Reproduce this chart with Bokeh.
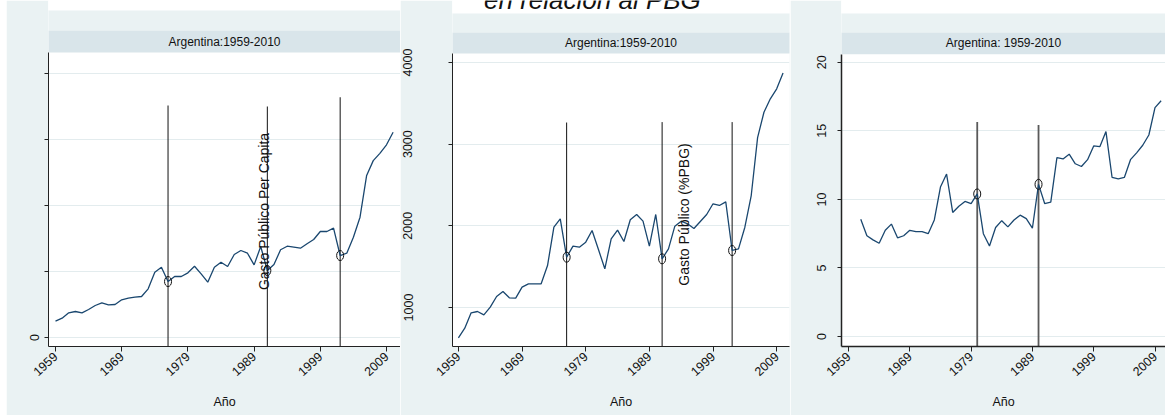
from math import pi
from bokeh.plotting import figure
from bokeh.layouts import row
from bokeh.models import FixedTicker, Range1d, Label, Spacer
from bokeh.core.properties import value
from bokeh.embed import file_html
from bokeh.resources import INLINE

# ---------------- data ----------------
years_p1 = list(range(1959, 2011))
gasto_total = [2.47, 2.93, 3.74, 3.94, 3.74, 4.24, 4.85, 5.25, 4.95, 5.0,
               5.71, 5.96, 6.11, 6.21, 7.37, 9.9, 10.65, 8.48, 9.24, 9.24,
               9.8, 10.8, 9.65, 8.38, 10.65, 11.4, 10.76, 12.58, 13.18, 12.77,
               11.0, 13.79, 10.15, 11.06, 13.29, 13.83, 13.68, 13.53, 14.2, 14.85,
               16.06, 16.06, 16.56, 12.42, 12.77, 15.2, 18.23, 24.55, 26.8, 27.9,
               29.2, 31.1]

years_p2 = list(range(1959, 2011))
gasto_pc = [629, 747, 935, 951, 910, 1004, 1135, 1196, 1119, 1114,
            1249, 1290, 1290, 1290, 1514, 1983, 2086, 1616, 1751, 1739,
            1800, 1943, 1710, 1474, 1841, 1947, 1808, 2074, 2139, 2057,
            1751, 2139, 1596, 1718, 1996, 2057, 2025, 1967, 2053, 2139,
            2270, 2249, 2294, 1698, 1718, 1983, 2371, 3080, 3391, 3555,
            3678, 3870]

years_p3 = list(range(1961, 2011))
gasto_pbg = [8.56, 7.35, 7.05, 6.8, 7.75, 8.2, 7.2, 7.35, 7.75, 7.65,
             7.65, 7.5, 8.5, 10.9, 11.85, 9.05, 9.5, 9.85, 9.7, 10.4,
             7.5, 6.6, 7.95, 8.45, 8.0, 8.5, 8.85, 8.6, 7.9, 11.1,
             9.7, 9.8, 13.05, 12.95, 13.3, 12.6, 12.4, 12.9, 13.9, 13.85,
             14.95, 11.6, 11.5, 11.6, 12.9, 13.4, 13.95, 14.7, 16.7, 17.2]

breaks_p1 = [1976, 1991, 2002]
break_top_p1 = [35.15, 35.0, 36.4]
breaks_p2 = [1976, 1991, 2002]
break_top_p2 = [3265, 3270, 3270]
breaks_p3 = [1980, 1990]
break_top_p3 = [15.64, 15.42]

x_ticks = [1959, 1969, 1979, 1989, 1999, 2009]
y_ticks_p1 = [0, 10, 20, 30, 40]
y_labels_p1 = {0: "0", 10: "", 20: "", 30: "", 40: ""}
y_ticks_p2 = [1000, 2000, 3000, 4000]
y_ticks_p3 = [0, 5, 10, 15, 20]

strip_titles = ["Argentina:1959-2010", "Argentina:1959-2010", "Argentina: 1959-2010"]
y_title_p1 = "Gasto Público Per Capita"
y_title_p2 = "Gasto Público (%PBG)"
x_title = "Año"
top_title = "en relación al PBG"

# ---------------- style ----------------
BG = "#EAF2F3"
STRIP = "#D9E5EA"
GRID = "#E3ECEE"
LINE = "#1A476F"
FONT = "Liberation Sans"
PAGE_TOP = 0
PAGE_BOTTOM = 415


def make_panel(page_left, width, frame, xmap, ymap, bg_top, strip_tb, strip_title,
               ticks_y, y_standoff, axis_w):
    """frame = (left, right, plot-top, bottom) in page pixels; the frame is extended
    up to the top of the canvas so the title strip can be drawn inside it."""
    fl, fr, ft, fb = frame
    px0, yr0, sx = xmap
    py0, v0, sy = ymap

    def X(px):
        return yr0 + (px - px0) / sx

    def Y(py):
        return v0 + (py0 - py) / sy

    p = figure(width=width, height=PAGE_BOTTOM - PAGE_TOP,
               x_range=Range1d(X(fl), X(fr)), y_range=Range1d(Y(fb), Y(PAGE_TOP)),
               min_border_left=fl - page_left, min_border_right=page_left + width - fr,
               min_border_top=0, min_border_bottom=PAGE_BOTTOM - fb,
               output_backend="svg", toolbar_location=None,
               background_fill_color="white", border_fill_color=BG,
               outline_line_color=None)
    p.xgrid.visible = False
    p.ygrid.grid_line_color = GRID
    p.ygrid.grid_line_width = 1
    p.xaxis.ticker = FixedTicker(ticks=x_ticks)
    p.yaxis.ticker = FixedTicker(ticks=ticks_y)
    for ax in (p.xaxis[0], p.yaxis[0]):
        ax.axis_line_color = "#222222"
        ax.axis_line_width = axis_w
        ax.major_tick_line_color = "#222222"
        ax.major_tick_in = 0
        ax.minor_tick_line_color = None
        ax.major_label_text_font = FONT
        ax.major_label_text_font_size = "12.5px"
        ax.major_label_text_color = "#111111"
    p.xaxis.major_tick_out = 5
    p.yaxis.major_tick_out = 4
    p.xaxis.major_label_orientation = 0.75
    p.xaxis.major_label_standoff = 3
    p.yaxis.major_label_orientation = "vertical"
    p.yaxis.major_label_standoff = y_standoff
    p.yaxis.bounds = (Y(fb), Y(ft))
    p.xaxis.axis_label = x_title
    p.xaxis.axis_label_text_font = FONT
    p.xaxis.axis_label_text_font_size = "12.5px"
    p.xaxis.axis_label_text_font_style = "normal"
    p.xaxis.axis_label_text_color = "#111111"
    p.xaxis.axis_label_standoff = 12

    st, sb = strip_tb
    xl, xr = X(fl - 5), X(fr + 15)
    # white band above the panels, light background, then the title strip
    p.quad(left=[xl] * 3, right=[xr] * 3,
           top=[Y(PAGE_TOP - 10), Y(bg_top), Y(st)],
           bottom=[Y(bg_top), Y(st), Y(sb)],
           fill_color=["white", BG, STRIP], line_color=None)
    p.text(x=[X((fl + fr) / 2 if fr < 1165 else 1003)], y=[Y((st + sb) / 2)],
           text=[strip_title], text_font=value(FONT), text_font_size="12px",
           text_align="center", text_baseline="middle", text_color="#111111")
    return p, X, Y


# ---------------- panel 1 ----------------
p1, X1, Y1 = make_panel(6, 394, (48, 400, 52, 346), (55, 1959, 6.62), (337, 0, 6.6),
                        10, (30, 52), strip_titles[0], y_ticks_p1, 6, 1)
p1.yaxis.major_label_overrides = y_labels_p1
p1.segment(x0=breaks_p1, y0=[Y1(360)] * len(breaks_p1), x1=breaks_p1, y1=break_top_p1,
           line_color="#111111", line_width=1)
p1.line(years_p1, gasto_total, line_color=LINE, line_width=1.3)
p1.ellipse(x=breaks_p1, y=[gasto_total[years_p1.index(b)] for b in breaks_p1],
           width=7, height=10, width_units="screen", height_units="screen",
           fill_color=None, line_color="#111111", line_width=1)
p1.add_layout(Label(x=X1(263), y=Y1(211), text=y_title_p1, text_align="center",
                    text_baseline="middle", angle=pi / 2, text_font=FONT,
                    text_font_size="14px", text_color="#111111"))

# ---------------- panel 2 ----------------
p2, X2, Y2 = make_panel(400, 390, (447, 789, 53, 346), (453, 1959, 6.46), (307, 1000, 0.08167),
                        13, (32, 53), strip_titles[1], y_ticks_p2, 36, 1)
p2.segment(x0=breaks_p2, y0=[Y2(360)] * len(breaks_p2), x1=breaks_p2, y1=break_top_p2,
           line_color="#111111", line_width=1)
p2.line(years_p2, gasto_pc, line_color=LINE, line_width=1.3)
p2.ellipse(x=breaks_p2, y=[gasto_pc[years_p2.index(b)] for b in breaks_p2],
           width=7, height=10, width_units="screen", height_units="screen",
           fill_color=None, line_color="#111111", line_width=1)
p2.add_layout(Label(x=X2(682), y=Y2(214), text=y_title_p2, text_align="center",
                    text_baseline="middle", angle=pi / 2, text_font=FONT,
                    text_font_size="14px", text_color="#111111"))
# page title, cut off at the top edge as in the original screenshot
p2.text(x=[X2(589)], y=[Y2(-1)], text=[top_title], text_font=value(FONT),
        text_font_style="italic", text_font_size="26px", text_align="center",
        text_baseline="alphabetic", text_color="#111111")

# ---------------- panel 3 ----------------
p3, X3, Y3 = make_panel(790, 375, (841, 1165, 54, 347), (848, 1959, 6.13), (337, 0, 13.75),
                        13, (32, 54), strip_titles[2], y_ticks_p3, 11, 1.5)
p3.segment(x0=breaks_p3, y0=[Y3(352)] * len(breaks_p3), x1=breaks_p3, y1=break_top_p3,
           line_color="#5a5a5a", line_width=1.8)
p3.line(years_p3, gasto_pbg, line_color=LINE, line_width=1.3)
p3.ellipse(x=breaks_p3, y=[gasto_pbg[years_p3.index(b)] for b in breaks_p3],
           width=7, height=10, width_units="screen", height_units="screen",
           fill_color=None, line_color="#111111", line_width=1)

layout = row(Spacer(width=6, height=PAGE_BOTTOM), p1, p2, p3, spacing=0)
open("out.html", "w").write(file_html(layout, INLINE))
